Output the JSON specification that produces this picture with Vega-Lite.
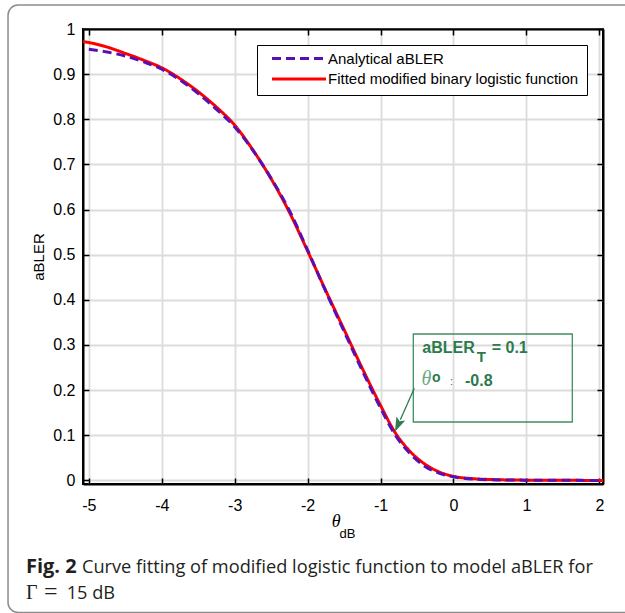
{
  "$schema": "https://vega.github.io/schema/vega-lite/v6.json",
  "width": 520,
  "height": 455,
  "autosize": {"type": "none"},
  "padding": {"left": 83, "top": 29, "right": 22, "bottom": 129},
  "background": "white",
  "config": {
    "view": {"stroke": "black", "strokeWidth": 2},
    "axis": {
      "domainColor": "black", "domainWidth": 2,
      "tickColor": "black", "tickWidth": 1.5, "tickSize": -6,
      "labelFont": "Liberation Sans", "labelFontSize": 16, "labelColor": "black",
      "gridColor": "#dcdcdc", "gridWidth": 1.8, "gridOpacity": 1,
      "titleFont": "Liberation Sans", "titleFontSize": 15, "titleFontWeight": "normal", "titleColor": "black"
    }
  },
  "datasets": {
    "curves": [
      {"x": -5.08, "y": 0.972, "series": "Fitted modified binary logistic function"},
      {"x": -5.0, "y": 0.970, "series": "Fitted modified binary logistic function"},
      {"x": -4.75, "y": 0.960, "series": "Fitted modified binary logistic function"},
      {"x": -4.5, "y": 0.946, "series": "Fitted modified binary logistic function"},
      {"x": -4.25, "y": 0.931, "series": "Fitted modified binary logistic function"},
      {"x": -4.0, "y": 0.914, "series": "Fitted modified binary logistic function"},
      {"x": -3.75, "y": 0.890, "series": "Fitted modified binary logistic function"},
      {"x": -3.5, "y": 0.861, "series": "Fitted modified binary logistic function"},
      {"x": -3.25, "y": 0.827, "series": "Fitted modified binary logistic function"},
      {"x": -3.0, "y": 0.787, "series": "Fitted modified binary logistic function"},
      {"x": -2.75, "y": 0.732, "series": "Fitted modified binary logistic function"},
      {"x": -2.5, "y": 0.668, "series": "Fitted modified binary logistic function"},
      {"x": -2.25, "y": 0.594, "series": "Fitted modified binary logistic function"},
      {"x": -2.0, "y": 0.508, "series": "Fitted modified binary logistic function"},
      {"x": -1.75, "y": 0.420, "series": "Fitted modified binary logistic function"},
      {"x": -1.5, "y": 0.334, "series": "Fitted modified binary logistic function"},
      {"x": -1.25, "y": 0.248, "series": "Fitted modified binary logistic function"},
      {"x": -1.0, "y": 0.166, "series": "Fitted modified binary logistic function"},
      {"x": -0.8, "y": 0.106, "series": "Fitted modified binary logistic function"},
      {"x": -0.6, "y": 0.065, "series": "Fitted modified binary logistic function"},
      {"x": -0.4, "y": 0.037, "series": "Fitted modified binary logistic function"},
      {"x": -0.2, "y": 0.019, "series": "Fitted modified binary logistic function"},
      {"x": 0.0, "y": 0.009, "series": "Fitted modified binary logistic function"},
      {"x": 0.25, "y": 0.004, "series": "Fitted modified binary logistic function"},
      {"x": 0.5, "y": 0.002, "series": "Fitted modified binary logistic function"},
      {"x": 1.0, "y": 0.0005, "series": "Fitted modified binary logistic function"},
      {"x": 1.5, "y": 0.0001, "series": "Fitted modified binary logistic function"},
      {"x": 2.05, "y": 0.0, "series": "Fitted modified binary logistic function"},
      {"x": -5.0, "y": 0.955, "series": "Analytical aBLER"},
      {"x": -4.75, "y": 0.949, "series": "Analytical aBLER"},
      {"x": -4.5, "y": 0.940, "series": "Analytical aBLER"},
      {"x": -4.25, "y": 0.927, "series": "Analytical aBLER"},
      {"x": -4.0, "y": 0.911, "series": "Analytical aBLER"},
      {"x": -3.75, "y": 0.887, "series": "Analytical aBLER"},
      {"x": -3.5, "y": 0.857, "series": "Analytical aBLER"},
      {"x": -3.25, "y": 0.822, "series": "Analytical aBLER"},
      {"x": -3.0, "y": 0.783, "series": "Analytical aBLER"},
      {"x": -2.75, "y": 0.731, "series": "Analytical aBLER"},
      {"x": -2.5, "y": 0.669, "series": "Analytical aBLER"},
      {"x": -2.25, "y": 0.598, "series": "Analytical aBLER"},
      {"x": -2.0, "y": 0.510, "series": "Analytical aBLER"},
      {"x": -1.75, "y": 0.418, "series": "Analytical aBLER"},
      {"x": -1.5, "y": 0.330, "series": "Analytical aBLER"},
      {"x": -1.25, "y": 0.243, "series": "Analytical aBLER"},
      {"x": -1.0, "y": 0.160, "series": "Analytical aBLER"},
      {"x": -0.8, "y": 0.101, "series": "Analytical aBLER"},
      {"x": -0.6, "y": 0.060, "series": "Analytical aBLER"},
      {"x": -0.4, "y": 0.032, "series": "Analytical aBLER"},
      {"x": -0.2, "y": 0.016, "series": "Analytical aBLER"},
      {"x": 0.0, "y": 0.008, "series": "Analytical aBLER"},
      {"x": 0.25, "y": 0.003, "series": "Analytical aBLER"},
      {"x": 0.5, "y": 0.0015, "series": "Analytical aBLER"},
      {"x": 1.0, "y": 0.0005, "series": "Analytical aBLER"},
      {"x": 1.5, "y": 0.0001, "series": "Analytical aBLER"},
      {"x": 2.05, "y": 0.0, "series": "Analytical aBLER"}
    ],
    "one": [{}]
  },
  "layer": [
    {
      "data": {"name": "one"},
      "mark": {"type": "rect", "fill": "transparent", "stroke": "#8c8c8c", "strokeWidth": 1.5, "cornerRadius": 10, "clip": false},
      "encoding": {
        "x": {"datum": -6.108, "type": "quantitative", "axis": null},
        "x2": {"datum": 2.6},
        "y": {"datum": 1.053, "type": "quantitative", "axis": null},
        "y2": {"datum": -0.2926}
      }
    },
    {
      "data": {"name": "curves"},
      "mark": {"type": "line", "strokeWidth": 3, "interpolate": "monotone"},
      "encoding": {
        "x": {
          "field": "x", "type": "quantitative",
          "scale": {"domain": [-5.08, 2.05], "nice": false, "zero": false},
          "axis": {"orient": "bottom", "values": [-5, -4, -3, -2, -1, 0, 1, 2], "labelExpr": "toString(datum.value)", "labelPadding": 19, "title": null, "grid": true}
        },
        "y": {
          "field": "y", "type": "quantitative",
          "scale": {"domain": [-0.008, 1], "nice": false, "zero": false},
          "axis": {"orient": "left", "values": [0, 0.1, 0.2, 0.3, 0.4, 0.5, 0.6, 0.7, 0.8, 0.9, 1], "labelExpr": "toString(datum.value)", "labelPadding": 14, "title": "aBLER", "titlePadding": 6, "grid": true}
        },
        "color": {
          "field": "series", "type": "nominal",
          "scale": {"domain": ["Analytical aBLER", "Fitted modified binary logistic function"], "range": ["#5a0fb3", "#ff0000"]},
          "legend": {
            "orient": "none", "legendX": 174, "legendY": 16, "title": null,
            "symbolType": "M-27,0H27", "symbolSize": 4, "symbolStrokeWidth": 3,
            "symbolOffset": 26.5, "labelOffset": 21.5, "clipHeight": 11, "rowPadding": 4.5,
            "labelFont": "Liberation Sans", "labelFontSize": 15, "labelColor": "black", "labelLimit": 400,
            "padding": 8, "strokeColor": "black", "fillColor": "white"
          }
        },
        "strokeDash": {
          "field": "series", "type": "nominal",
          "scale": {"domain": ["Analytical aBLER", "Fitted modified binary logistic function"], "range": [[9, 5], [1, 0]]},
          "legend": {
            "orient": "none", "legendX": 174, "legendY": 16, "title": null,
            "symbolType": "M-27,0H27", "symbolSize": 4, "symbolStrokeWidth": 3,
            "symbolOffset": 26.5, "labelOffset": 21.5, "clipHeight": 11, "rowPadding": 4.5,
            "labelFont": "Liberation Sans", "labelFontSize": 15, "labelColor": "black", "labelLimit": 400,
            "padding": 8, "strokeColor": "black", "fillColor": "white"
          }
        }
      }
    },
    {
      "data": {"name": "curves"},
      "mark": {"type": "line", "opacity": 0},
      "encoding": {
        "x": {"field": "x", "type": "quantitative", "axis": {"orient": "top", "values": [-5, -4, -3, -2, -1, 0, 1, 2], "labels": false, "grid": false, "title": null}},
        "y": {"field": "y", "type": "quantitative", "axis": {"orient": "right", "values": [0, 0.1, 0.2, 0.3, 0.4, 0.5, 0.6, 0.7, 0.8, 0.9, 1], "labels": false, "grid": false, "title": null}}
      }
    },
    {
      "data": {"name": "one"},
      "mark": {"type": "rect", "fill": "transparent", "stroke": "#3f8e62", "strokeWidth": 1.3},
      "encoding": {
        "x": {"datum": -0.551, "type": "quantitative", "axis": null},
        "x2": {"datum": 1.629},
        "y": {"datum": 0.3243, "type": "quantitative", "axis": null},
        "y2": {"datum": 0.1294}
      }
    },
    {
      "data": {"name": "one"},
      "mark": {"type": "rule", "stroke": "#2e7d4e", "strokeWidth": 1.3},
      "encoding": {
        "x": {"datum": -0.537, "type": "quantitative", "axis": null},
        "x2": {"datum": -0.729},
        "y": {"datum": 0.204, "type": "quantitative", "axis": null},
        "y2": {"datum": 0.1342}
      }
    },
    {
      "data": {"name": "one"},
      "mark": {"type": "point", "shape": "M0,-1L-0.6,0.8L0,0.45L0.6,0.8Z", "size": 256, "angle": 204, "filled": true, "color": "#2e7d4e", "opacity": 1},
      "encoding": {
        "x": {"datum": -0.758, "type": "quantitative", "axis": null},
        "y": {"datum": 0.124, "type": "quantitative", "axis": null}
      }
    },
    {
      "data": {"name": "one"},
      "mark": {"type": "text", "text": "aBLER", "font": "Liberation Sans", "fontWeight": "bold", "fontSize": 16, "color": "#2b7b4c", "align": "left", "baseline": "alphabetic"},
      "encoding": {
        "x": {"datum": -0.428, "type": "quantitative", "axis": null},
        "y": {"datum": 0.2816, "type": "quantitative", "axis": null}
      }
    },
    {
      "data": {"name": "one"},
      "mark": {"type": "text", "text": "T", "font": "Liberation Sans", "fontWeight": "bold", "fontSize": 15, "color": "#2b7b4c", "align": "left", "baseline": "alphabetic"},
      "encoding": {
        "x": {"datum": 0.318, "type": "quantitative", "axis": null},
        "y": {"datum": 0.263, "type": "quantitative", "axis": null}
      }
    },
    {
      "data": {"name": "one"},
      "mark": {"type": "text", "text": "= 0.1", "font": "Liberation Sans", "fontWeight": "bold", "fontSize": 16, "color": "#2b7b4c", "align": "left", "baseline": "alphabetic"},
      "encoding": {
        "x": {"datum": 0.524, "type": "quantitative", "axis": null},
        "y": {"datum": 0.2816, "type": "quantitative", "axis": null}
      }
    },
    {
      "data": {"name": "one"},
      "mark": {"type": "text", "text": "θ", "font": "Liberation Serif", "fontStyle": "italic", "fontSize": 20, "color": "#6aa884", "align": "left", "baseline": "alphabetic"},
      "encoding": {
        "x": {"datum": -0.44, "type": "quantitative", "axis": null},
        "y": {"datum": 0.2113, "type": "quantitative", "axis": null}
      }
    },
    {
      "data": {"name": "one"},
      "mark": {"type": "text", "text": "o", "font": "Liberation Sans", "fontWeight": "bold", "fontSize": 14, "color": "#2b7b4c", "align": "left", "baseline": "alphabetic"},
      "encoding": {
        "x": {"datum": -0.295, "type": "quantitative", "axis": null},
        "y": {"datum": 0.2182, "type": "quantitative", "axis": null}
      }
    },
    {
      "data": {"name": "one"},
      "mark": {"type": "text", "text": ":", "font": "Liberation Sans", "fontSize": 11, "color": "#2b7b4c", "align": "left", "baseline": "alphabetic"},
      "encoding": {
        "x": {"datum": -0.048, "type": "quantitative", "axis": null},
        "y": {"datum": 0.2113, "type": "quantitative", "axis": null}
      }
    },
    {
      "data": {"name": "one"},
      "mark": {"type": "text", "text": "-0.8", "font": "Liberation Sans", "fontWeight": "bold", "fontSize": 16, "color": "#2b7b4c", "align": "left", "baseline": "alphabetic"},
      "encoding": {
        "x": {"datum": 0.158, "type": "quantitative", "axis": null},
        "y": {"datum": 0.2098, "type": "quantitative", "axis": null}
      }
    },
    {
      "data": {"name": "one"},
      "mark": {"type": "text", "text": "θ", "font": "Liberation Serif", "fontStyle": "italic", "fontSize": 18, "color": "black", "align": "left", "baseline": "alphabetic", "clip": false},
      "encoding": {
        "x": {"datum": -1.67, "type": "quantitative", "axis": null},
        "y": {"datum": -0.104, "type": "quantitative", "axis": null}
      }
    },
    {
      "data": {"name": "one"},
      "mark": {"type": "text", "text": "dB", "font": "Liberation Sans", "fontSize": 13, "color": "black", "align": "left", "baseline": "alphabetic"},
      "encoding": {
        "x": {"datum": -1.562, "type": "quantitative", "axis": null},
        "y": {"datum": -0.1276, "type": "quantitative", "axis": null}
      }
    },
    {
      "data": {"name": "one"},
      "mark": {"type": "text", "text": "Fig. 2", "font": "Open Sans", "fontWeight": "bold", "fontSize": 20, "color": "#231f20", "align": "left", "baseline": "alphabetic"},
      "encoding": {
        "x": {"datum": -5.862, "type": "quantitative", "axis": null},
        "y": {"datum": -0.2045, "type": "quantitative", "axis": null}
      }
    },
    {
      "data": {"name": "one"},
      "mark": {"type": "text", "text": "Curve fitting of modified logistic function to model aBLER for", "font": "Open Sans", "fontSize": 18.2, "color": "#231f20", "align": "left", "baseline": "alphabetic"},
      "encoding": {
        "x": {"datum": -5.094, "type": "quantitative", "axis": null},
        "y": {"datum": -0.2045, "type": "quantitative", "axis": null}
      }
    },
    {
      "data": {"name": "one"},
      "mark": {"type": "text", "text": "Γ", "font": "Liberation Serif", "fontSize": 20, "color": "#231f20", "align": "left", "baseline": "alphabetic"},
      "encoding": {
        "x": {"datum": -5.862, "type": "quantitative", "axis": null},
        "y": {"datum": -0.2634, "type": "quantitative", "axis": null}
      }
    },
    {
      "data": {"name": "one"},
      "mark": {"type": "text", "text": "=", "font": "Liberation Serif", "fontSize": 24, "color": "#231f20", "align": "left", "baseline": "alphabetic"},
      "encoding": {
        "x": {"datum": -5.615, "type": "quantitative", "axis": null},
        "y": {"datum": -0.2634, "type": "quantitative", "axis": null}
      }
    },
    {
      "data": {"name": "one"},
      "mark": {"type": "text", "text": "15 dB", "font": "Open Sans", "fontSize": 18.2, "color": "#231f20", "align": "left", "baseline": "alphabetic"},
      "encoding": {
        "x": {"datum": -5.304, "type": "quantitative", "axis": null},
        "y": {"datum": -0.2634, "type": "quantitative", "axis": null}
      }
    }
  ],
  "resolve": {"axis": {"x": "independent", "y": "independent"}}
}
